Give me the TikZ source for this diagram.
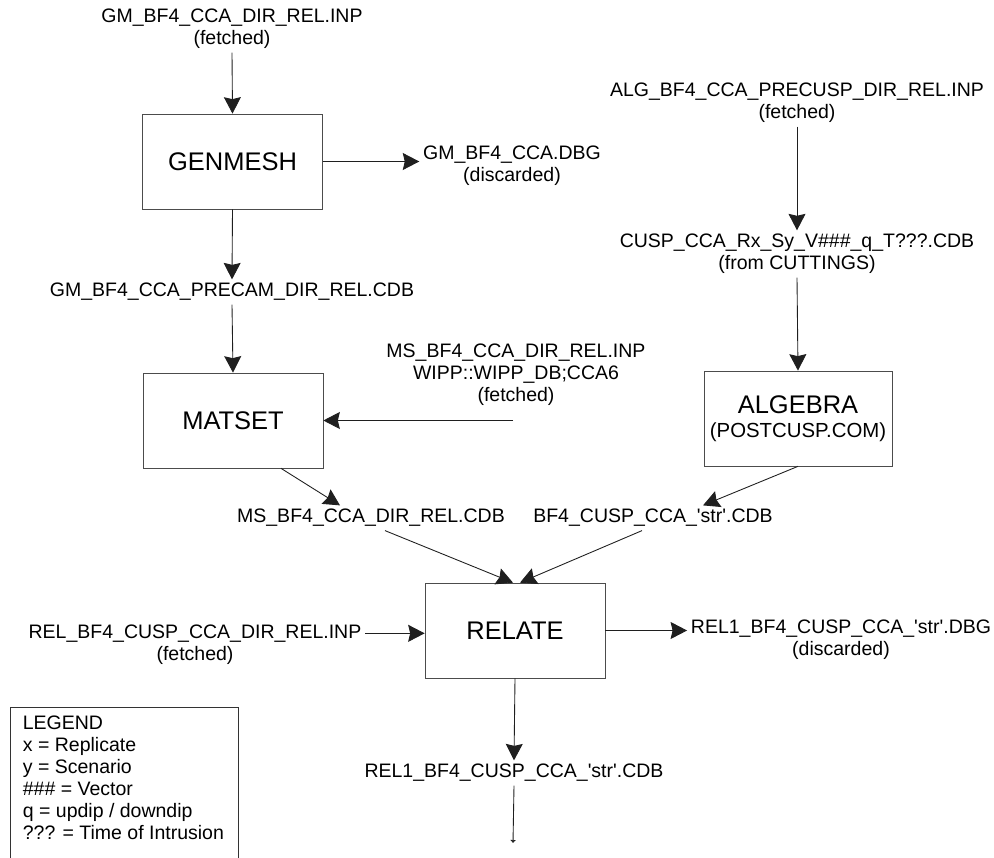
\documentclass[tikz,border=0pt]{standalone}
\usepackage{fontspec}
\usepackage{tikz}
\usetikzlibrary{arrows.meta}
\usetikzlibrary{positioning}

\newfontfamily\diagfont{Liberation Sans}
\newcommand{\smalltxt}{\diagfont\fontsize{11.1}{12.5}\selectfont}
\newcommand{\bigtxt}{\diagfont\fontsize{14.5}{17}\selectfont}

\begin{document}
\begin{tikzpicture}[x=0.02cm, y=-0.02cm,
        procbox/.style={rectangle, draw=black!70, minimum width=3.6cm, minimum height=1.9cm, align=center, font=\bigtxt},
        datafile/.style={align=center, font=\smalltxt, inner sep=2pt},
        arrow/.style={-{Stealth[length=0.33cm,width=0.34cm,inset=0.04cm]}, black!88, line width=0.5pt},
    ]
    \useasboundingbox (0,0) rectangle (994,858);
    % left column
    \node[datafile] (gminp) at (232,29) {GM\_BF4\_CCA\_DIR\_REL.INP\\(fetched)};
    \node[procbox] (genmesh) at (232.5,161.5) {GENMESH};
    \node[datafile] (gmdbg) at (512,166) {GM\_BF4\_CCA.DBG\\(discarded)};
    \node[datafile] (gmcdb) at (232,292) {GM\_BF4\_CCA\_PRECAM\_DIR\_REL.CDB};
    \node[procbox] (matset) at (233,420.5) {MATSET};
    \node[datafile] (msinp) at (516,375) {MS\_BF4\_CCA\_DIR\_REL.INP\\WIPP::WIPP\_DB;CCA6\\(fetched)};
    \coordinate (msfeed) at (513,420.5);
    \node[datafile] (mscdb) at (371,518) {MS\_BF4\_CCA\_DIR\_REL.CDB};
    % right column
    \node[datafile] (alginp) at (797,103) {ALG\_BF4\_CCA\_PRECUSP\_DIR\_REL.INP\\(fetched)};
    \node[datafile] (cusp) at (797,254) {CUSP\_CCA\_Rx\_Sy\_V\#\#\#\_q\_T???.CDB\\(from CUTTINGS)};
    \node[procbox] (algebra) at (798,418.5) {ALGEBRA\\[-3.5pt]{\fontsize{11.6}{13}\selectfont (POSTCUSP.COM)}};
    \node[datafile] (bfcdb) at (653,518) {BF4\_CUSP\_CCA\_'str'.CDB};
    % relate
    \node[procbox] (relate) at (515,630.5) {RELATE};
    \node[datafile] (relinp) at (195,645) {REL\_BF4\_CUSP\_CCA\_DIR\_REL.INP\\(fetched)};
    \node[datafile] (reldbg) at (841,640) {REL1\_BF4\_CUSP\_CCA\_'str'.DBG\\(discarded)};
    \node[datafile] (relcdb) at (514,773) {REL1\_BF4\_CUSP\_CCA\_'str'.CDB};
    \coordinate (relend) at (513,843);

    \draw[arrow] (gminp.south) -- (genmesh.north);
    \draw[arrow] (genmesh.east) -- (genmesh.east -| gmdbg.west);
    \draw[arrow] (genmesh.south) -- (gmcdb.north);
    \draw[arrow] (gmcdb.south) -- (matset.north);
    \draw[arrow] (msfeed) -- (matset.east);
    \draw[arrow] ([xshift=0.96cm]matset.south) -- ([xshift=-0.62cm]mscdb.north);
    \draw[arrow] (alginp.south) -- (cusp.north);
    \draw[arrow] (cusp.south) -- (algebra.north);
    \draw[arrow] (algebra.south) -- ([xshift=1cm]bfcdb.north);
    \draw[arrow] ([xshift=0.28cm]mscdb.south) -- ([xshift=-0.04cm]relate.north);
    \draw[arrow] ([xshift=-0.22cm]bfcdb.south) -- ([xshift=0.1cm]relate.north);
    \draw[arrow] ([yshift=-0.24cm]relinp.north east) -- ([yshift=-0.24cm]relinp.north east -| relate.west);
    \draw[arrow] (relate.east) -- (relate.east -| reldbg.west);
    \draw[arrow] (relate.south) -- (relcdb.north);
    \draw[-{Latex[length=0.06cm,width=0.12cm]}, black!88, line width=0.5pt] (relcdb.south) -- (relend);

    % legend
    \draw[black!80, line width=0.5pt] (10,870) -- (10,707) -- (238,707) -- (238,870);
    \node[datafile, align=left, anchor=north west] (legend) at (19,712)
        {LEGEND\\x = Replicate\\y = Scenario\\\#\#\# = Vector\\q = updip / downdip\\??? = Time of Intrusion};
\end{tikzpicture}
\end{document}
